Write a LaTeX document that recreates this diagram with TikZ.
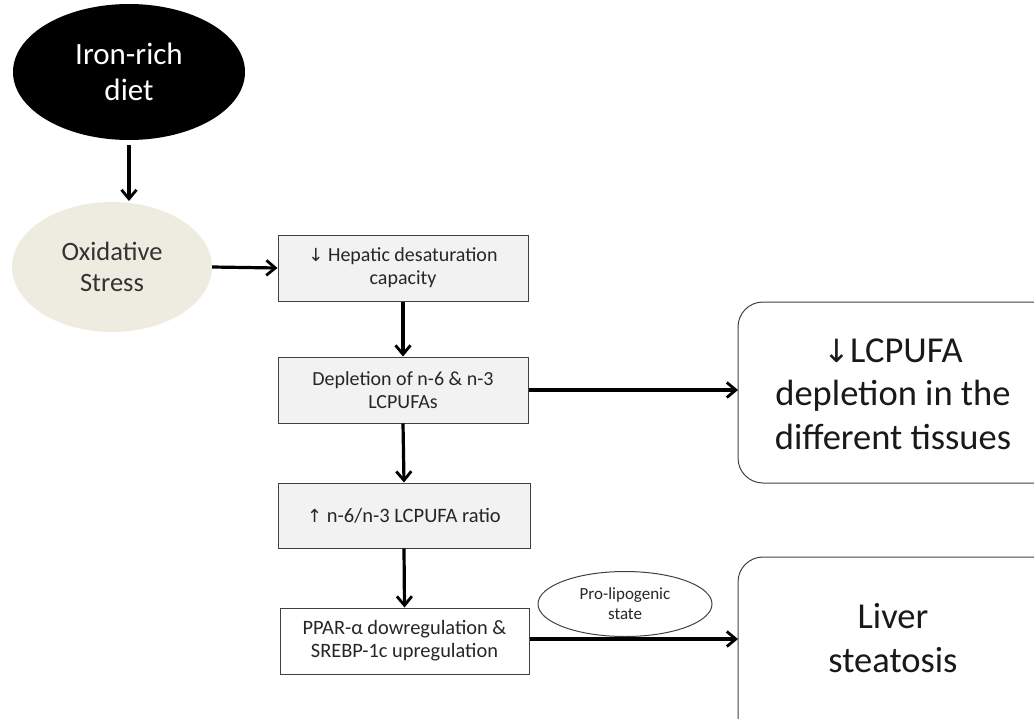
\documentclass[tikz,border=0pt]{standalone}
\usepackage{fontspec}
\setmainfont{Carlito}
\newfontfamily\symf{DejaVu Sans}
\usetikzlibrary{arrows.meta,shapes.geometric}
\definecolor{boxgray}{HTML}{F2F2F2}
\definecolor{stressfill}{HTML}{EEEBE0}
\definecolor{edgegray}{HTML}{404040}
\begin{document}
\begin{tikzpicture}[x=1pt,y=-1pt,
  arr/.style={line width=3.2pt,-{Straight Barb[length=9pt,width=15pt,line width=2.8pt]}},
  flowbox/.style={draw=edgegray,line width=1pt,fill=boxgray,minimum width=250pt,minimum height=66pt,align=center,inner sep=0pt,text=black!85,font=\fontsize{20}{23}\selectfont},
  bigbox/.style={draw=edgegray,line width=1pt,rounded corners=25pt},
  bigtext/.style={align=center,text=black!90,font=\fontsize{36.5}{43.5}\selectfont},
  oval/.style={ellipse,align=center,inner sep=0pt}]
\useasboundingbox (0,0) rectangle (1034,718);
\node[oval,fill=black,text=white,minimum width=232pt,minimum height=136pt,font=\fontsize{31}{36}\selectfont] (iron) at (129,72) {Iron-rich\\diet};
\node[oval,fill=stressfill,text=black!80,minimum width=200pt,minimum height=130pt,font=\fontsize{26.5}{31}\selectfont] (stress) at (112,267) {Oxidative\\Stress};
\node[flowbox] (hep) at (403,268) {{\symf\fontsize{18}{23}\selectfont ↓} Hepatic desaturation\\capacity};
\node[flowbox] (dep) at (403,390) {Depletion of n-6 \& n-3\\LCPUFAs};
\node[flowbox,minimum width=252pt,minimum height=65pt,font=\fontsize{20.5}{23}\selectfont] (ratio) at (404,515.5) {{\symf\fontsize{18}{23}\selectfont ↑} n-6/n-3 LCPUFA ratio};
\node[flowbox,fill=white,minimum width=249pt,font=\fontsize{20.4}{23}\selectfont] (ppar) at (404.5,641) {PPAR-α dowregulation \&\\SREBP-1c upregulation};
\node[oval,draw=edgegray,line width=1pt,minimum width=174pt,minimum height=65pt,text=black!85,font=\fontsize{17}{20}\selectfont] (pro) at (625,604) {Pro-lipogenic\\state};
\draw[bigbox] (738,302) rectangle (1060,483);
\node[bigtext] (lcp) at (893,394) {{\symf\fontsize{32}{43.5}\selectfont ↓}LCPUFA\\depletion in the\\different tissues};
\coordinate (lcpin) at (738,390);
\draw[bigbox] (738,557) rectangle (1060,760);
\node[bigtext] (liver) at (893,638) {Liver\\steatosis};
\coordinate (liverin) at (738,639);
\draw[arr] (iron.south |- 0,145) -- (iron.south |- 0,201);
\draw[arr] (stress.east) -- (hep.west);
\draw[arr] (hep.south) -- (dep.north);
\draw[arr] (dep.south) -- (ratio.north);
\draw[arr] (ratio.south) -- (ppar.north);
\draw[arr] (dep.east) -- (lcpin);
\draw[arr] (ppar.east |- liverin) -- (liverin);
\end{tikzpicture}
\end{document}
